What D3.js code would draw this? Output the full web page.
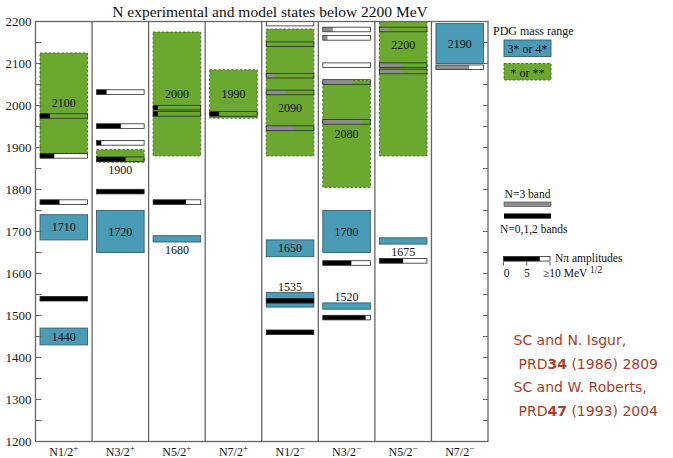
<!DOCTYPE html>
<html>
<head>
<meta charset="utf-8">
<script src="https://cdn.jsdelivr.net/npm/d3@7"></script>
<style>
  body { margin: 0; background: #fff; }
  svg { display: block; }
</style>
</head>
<body>
<svg id="chart" width="673" height="458"></svg>
<script>
// Partial waves (J and parity) shown as columns
const spins = ["1/2", "3/2", "5/2", "7/2", "1/2", "3/2", "5/2", "7/2"];
const parities = ["+", "+", "+", "+", "−", "−", "−", "−"];
const massTicks = [1200, 1300, 1400, 1500, 1600, 1700, 1800, 1900, 2000, 2100, 2200];

// PDG resonances: column, mass range (MeV), name, rating (high = 3*/4*, low = */**), label placement
const pdgStates = [
  { col: 0, lo: 1430, hi: 1470, name: "1440", rating: "high", label: "mid" },
  { col: 0, lo: 1680, hi: 1740, name: "1710", rating: "high", label: "mid" },
  { col: 0, lo: 1886, hi: 2125, name: "2100", rating: "low",  label: "mid" },
  { col: 1, lo: 1650, hi: 1750, name: "1720", rating: "high", label: "mid" },
  { col: 1, lo: 1865, hi: 1895, name: "1900", rating: "low",  label: "below" },
  { col: 2, lo: 1675, hi: 1690, name: "1680", rating: "high", label: "below" },
  { col: 2, lo: 1880, hi: 2175, name: "2000", rating: "low",  label: "mid" },
  { col: 3, lo: 1970, hi: 2085, name: "1990", rating: "low",  label: "mid" },
  { col: 4, lo: 1520, hi: 1555, name: "1535", rating: "high", label: "above" },
  { col: 4, lo: 1640, hi: 1680, name: "1650", rating: "high", label: "mid" },
  { col: 4, lo: 1880, hi: 2182, name: "2090", rating: "low",  label: "mid" },
  { col: 5, lo: 1515, hi: 1530, name: "1520", rating: "high", label: "above" },
  { col: 5, lo: 1650, hi: 1750, name: "1700", rating: "high", label: "mid" },
  { col: 5, lo: 1805, hi: 2060, name: "2080", rating: "low",  label: "mid" },
  { col: 6, lo: 1670, hi: 1685, name: "1675", rating: "high", label: "below" },
  { col: 6, lo: 1880, hi: 2200, name: "2200", rating: "low",  label: "mid" },
  { col: 7, lo: 2100, hi: 2195, name: "2190", rating: "high", label: "mid" }
];

// Quark-model states: column, mass (MeV), N-pi decay amplitude (MeV^1/2, 0..10), oscillator band
const modelStates = [
  { col: 0, mass: 1540, amp: 10,  band: "low" },
  { col: 0, mass: 1770, amp: 4.1, band: "low" },
  { col: 0, mass: 1880, amp: 3.0, band: "low" },
  { col: 0, mass: 1975, amp: 2.1, band: "low" },
  { col: 1, mass: 1795, amp: 10,  band: "low" },
  { col: 1, mass: 1872, amp: 6.1, band: "low" },
  { col: 1, mass: 1911, amp: 1.0, band: "low" },
  { col: 1, mass: 1951, amp: 5.1, band: "low" },
  { col: 1, mass: 2032, amp: 2.1, band: "low" },
  { col: 2, mass: 1770, amp: 6.9, band: "low" },
  { col: 2, mass: 1980, amp: 1.0, band: "low" },
  { col: 2, mass: 1995, amp: 1.0, band: "low" },
  { col: 3, mass: 1980, amp: 2.0, band: "low" },
  { col: 4, mass: 1460, amp: 10,  band: "low" },
  { col: 4, mass: 1535, amp: 10,  band: "low" },
  { col: 4, mass: 1946, amp: 6.0, band: "n3" },
  { col: 4, mass: 2031, amp: 4.0, band: "n3" },
  { col: 4, mass: 2071, amp: 1.9, band: "n3" },
  { col: 4, mass: 2146, amp: 0,   band: "n3" },
  { col: 4, mass: 2195, amp: 0,   band: "n3" },
  { col: 5, mass: 1495, amp: 9.0, band: "low" },
  { col: 5, mass: 1625, amp: 6.0, band: "low" },
  { col: 5, mass: 1961, amp: 8.2, band: "n3" },
  { col: 5, mass: 2056, amp: 6.2, band: "n3" },
  { col: 5, mass: 2096, amp: 0,   band: "n3" },
  { col: 5, mass: 2161, amp: 1.0, band: "n3" },
  { col: 5, mass: 2181, amp: 2.1, band: "n3" },
  { col: 6, mass: 1630, amp: 5.0, band: "low" },
  { col: 6, mass: 2081, amp: 5.0, band: "n3" },
  { col: 6, mass: 2096, amp: 5.0, band: "n3" },
  { col: 6, mass: 2181, amp: 2.0, band: "n3" },
  { col: 7, mass: 2091, amp: 7.0, band: "n3" }
];

const citations = [
  ["SC and N. Isgur,", null],
  ["PRD", "34", " (1986) 2809"],
  ["SC and W. Roberts,", null],
  ["PRD", "47", " (1993) 2004"]
];

// ---------------------------------------------------------------------------
const svg = d3.select("#chart");
const serif = "'Liberation Serif', 'Times New Roman', serif";
const colors = { high: "#4a9cb6", low: "#6ba82f", lowEdge: "#3d6b1a", highEdge: "#34606e",
                 black: "#000", n3: "#8e8e8e", frame: "#666" };

const plotL = 35.5, plotR = 488, plotT = 21.5, plotB = 441.5;
const y = d3.scaleLinear().domain([1200, 2200]).range([plotB, plotT]);
const x = d3.scaleBand().domain(d3.range(spins.length)).range([plotL, plotR]).paddingInner(0).paddingOuter(0);
const inset = 4.5;
const boxX = c => x(c) + inset;
const boxW = x.bandwidth() - 2 * inset;
const ampScale = d3.scaleLinear().domain([0, 10]).range([0, boxW]).clamp(true);
const barH = 4.6;

// label position overrides for a couple of wide ranges (mass level, MeV)
const labelMass = { "2090": 1993, "2200": 2144 };

const plot = svg.append("g");
svg.append("defs").append("clipPath").attr("id", "plotClip")
  .append("rect").attr("x", plotL).attr("y", plotT).attr("width", plotR - plotL).attr("height", plotB - plotT);
const marks = plot.append("g").attr("clip-path", "url(#plotClip)");

// PDG mass ranges
marks.selectAll("rect.pdg").data(pdgStates).join("rect")
  .attr("class", "pdg")
  .attr("x", d => boxX(d.col))
  .attr("y", d => y(d.hi))
  .attr("width", boxW)
  .attr("height", d => y(d.lo) - y(d.hi))
  .attr("fill", d => colors[d.rating])
  .attr("stroke", d => d.rating === "high" ? colors.highEdge : colors.lowEdge)
  .attr("stroke-width", 0.9)
  .attr("stroke-dasharray", d => d.rating === "low" ? "2.5,1.8" : null);

// Model states: filled part = N-pi amplitude
const bars = marks.selectAll("g.model").data(modelStates).join("g").attr("class", "model");
bars.append("rect")
  .attr("x", d => boxX(d.col))
  .attr("y", d => y(d.mass) - barH / 2)
  .attr("width", d => ampScale(d.amp))
  .attr("height", barH)
  .attr("fill", d => d.band === "n3" ? colors.n3 : colors.black);
bars.append("rect")
  .attr("x", d => boxX(d.col))
  .attr("y", d => y(d.mass) - barH / 2)
  .attr("width", boxW)
  .attr("height", barH)
  .attr("fill", "none")
  .attr("stroke", "#2a2a2a")
  .attr("stroke-width", 0.8);

// PDG labels
plot.selectAll("text.pdgLabel").data(pdgStates).join("text")
  .attr("class", "pdgLabel")
  .attr("x", d => x(d.col) + x.bandwidth() / 2)
  .attr("y", d => {
    if (d.label === "below") return y(d.lo) + 11.5;
    if (d.label === "above") return y(d.hi) - 1.5;
    const m = labelMass[d.name] !== undefined ? labelMass[d.name] : (d.lo + d.hi) / 2;
    return y(m) + 4;
  })
  .attr("text-anchor", "middle")
  .attr("font-family", serif)
  .attr("font-size", 12)
  .attr("fill", "#111")
  .text(d => d.name);

// Frame, column dividers
plot.append("rect").attr("x", plotL).attr("y", plotT).attr("width", plotR - plotL).attr("height", plotB - plotT)
  .attr("fill", "none").attr("stroke", colors.frame).attr("stroke-width", 1.3);
plot.selectAll("line.div").data(d3.range(1, spins.length)).join("line")
  .attr("class", "div")
  .attr("x1", d => x(d)).attr("x2", d => x(d)).attr("y1", plotT).attr("y2", plotB)
  .attr("stroke", colors.frame).attr("stroke-width", 1.3);

// Axes with inward ticks every 50 MeV
const leftAxis = d3.axisLeft(y).tickValues(massTicks).tickSize(0).tickPadding(4).tickFormat(d3.format("d"));
const gL = plot.append("g").attr("transform", `translate(${plotL},0)`).call(leftAxis);
gL.select(".domain").remove();
gL.selectAll("text").attr("font-family", serif).attr("font-size", 13).attr("fill", "#222");

const minor = d3.range(1200, 2201, 50);
plot.selectAll("line.tl").data(minor).join("line")
  .attr("class", "tl")
  .attr("x1", plotL).attr("x2", plotL + 6).attr("y1", d => y(d)).attr("y2", d => y(d))
  .attr("stroke", colors.frame).attr("stroke-width", 1);
plot.selectAll("line.tr").data(minor).join("line")
  .attr("class", "tr")
  .attr("x1", plotR - 5).attr("x2", plotR).attr("y1", d => y(d)).attr("y2", d => y(d))
  .attr("stroke", colors.frame).attr("stroke-width", 1);

// Column labels
const colLab = plot.selectAll("text.col").data(spins).join("text")
  .attr("class", "col")
  .attr("x", (d, i) => x(i) + x.bandwidth() / 2)
  .attr("y", 455.5)
  .attr("text-anchor", "middle")
  .attr("font-family", serif)
  .attr("font-size", 12)
  .attr("fill", "#111");
colLab.append("tspan").text(d => "N" + d);
colLab.append("tspan").attr("dy", -5).attr("font-size", 9).text((d, i) => parities[i]);

// Title
svg.append("text").attr("x", 270).attr("y", 17).attr("text-anchor", "middle")
  .attr("font-family", serif).attr("font-size", 15.5).attr("fill", "#111")
  .text("N experimental and model states below 2200 MeV");

// Legend
const lg = svg.append("g").attr("font-family", serif).attr("fill", "#111");
const lx = 504, lw = 47;
lg.append("text").attr("x", 493).attr("y", 34.5).attr("font-size", 12).text("PDG mass range");
lg.append("rect").attr("x", lx).attr("y", 40).attr("width", lw).attr("height", 16.5)
  .attr("fill", colors.high).attr("stroke", colors.highEdge).attr("stroke-width", 0.9);
lg.append("text").attr("x", lx + lw / 2).attr("y", 52.5).attr("text-anchor", "middle").attr("font-size", 12).text("3* or 4*");
lg.append("rect").attr("x", lx).attr("y", 63.5).attr("width", lw).attr("height", 16.5)
  .attr("fill", colors.low).attr("stroke", colors.lowEdge).attr("stroke-width", 0.9).attr("stroke-dasharray", "2.5,1.8");
lg.append("text").attr("x", lx + lw / 2).attr("y", 76.5).attr("text-anchor", "middle").attr("font-size", 12).text("* or **");

lg.append("text").attr("x", lx + lw / 2).attr("y", 198).attr("text-anchor", "middle").attr("font-size", 11.5).text("N=3 band");
lg.append("rect").attr("x", lx).attr("y", 202).attr("width", lw).attr("height", barH)
  .attr("fill", colors.n3).attr("stroke", "#444").attr("stroke-width", 0.6);
lg.append("rect").attr("x", lx).attr("y", 213.5).attr("width", lw).attr("height", barH + 0.5).attr("fill", "#000");
lg.append("text").attr("x", 500).attr("y", 232.5).attr("font-size", 11.5).text("N=0,1,2 bands");

// N-pi amplitude key
const amp = lg.append("g");
const ampX = d3.scaleLinear().domain([0, 10]).range([503.5, 550]);
amp.append("rect").attr("x", ampX(0)).attr("y", 256.5).attr("width", ampX(7.8) - ampX(0)).attr("height", barH).attr("fill", "#000");
amp.append("rect").attr("x", ampX(0)).attr("y", 256.5).attr("width", ampX(10) - ampX(0)).attr("height", barH)
  .attr("fill", "none").attr("stroke", "#2a2a2a").attr("stroke-width", 0.8);
amp.selectAll("line").data([0, 5, 10]).join("line")
  .attr("x1", d => ampX(d)).attr("x2", d => ampX(d)).attr("y1", 262).attr("y2", 265.5)
  .attr("stroke", "#333").attr("stroke-width", 0.8);
amp.append("text").attr("x", 555).attr("y", 261.5).attr("font-size", 11.5).text("Nπ amplitudes");
amp.append("text").attr("x", ampX(0) + 3).attr("y", 277).attr("text-anchor", "middle").attr("font-size", 11.5).text("0");
amp.append("text").attr("x", ampX(5)).attr("y", 277).attr("text-anchor", "middle").attr("font-size", 11.5).text("5");
const t10 = amp.append("text").attr("x", 543).attr("y", 277).attr("font-size", 11.5);
t10.append("tspan").text("≥10 MeV ");
t10.append("tspan").attr("dy", -3.8).attr("font-size", 9.5).text("1/2");

// Citations
const cg = svg.append("g").attr("font-family", "'Comic Sans MS', 'DejaVu Sans', sans-serif")
  .attr("font-size", 14).attr("fill", "#b03c26");
citations.forEach((c, i) => {
  const t = cg.append("text").attr("x", c[1] === null ? 513.5 : 518.5).attr("y", 345 + i * 23.7);
  if (c[1] === null) { t.text(c[0]); return; }
  t.append("tspan").text(c[0]);
  t.append("tspan").attr("font-weight", "bold").text(c[1]);
  t.append("tspan").text(c[2]);
});
</script>
</body>
</html>
